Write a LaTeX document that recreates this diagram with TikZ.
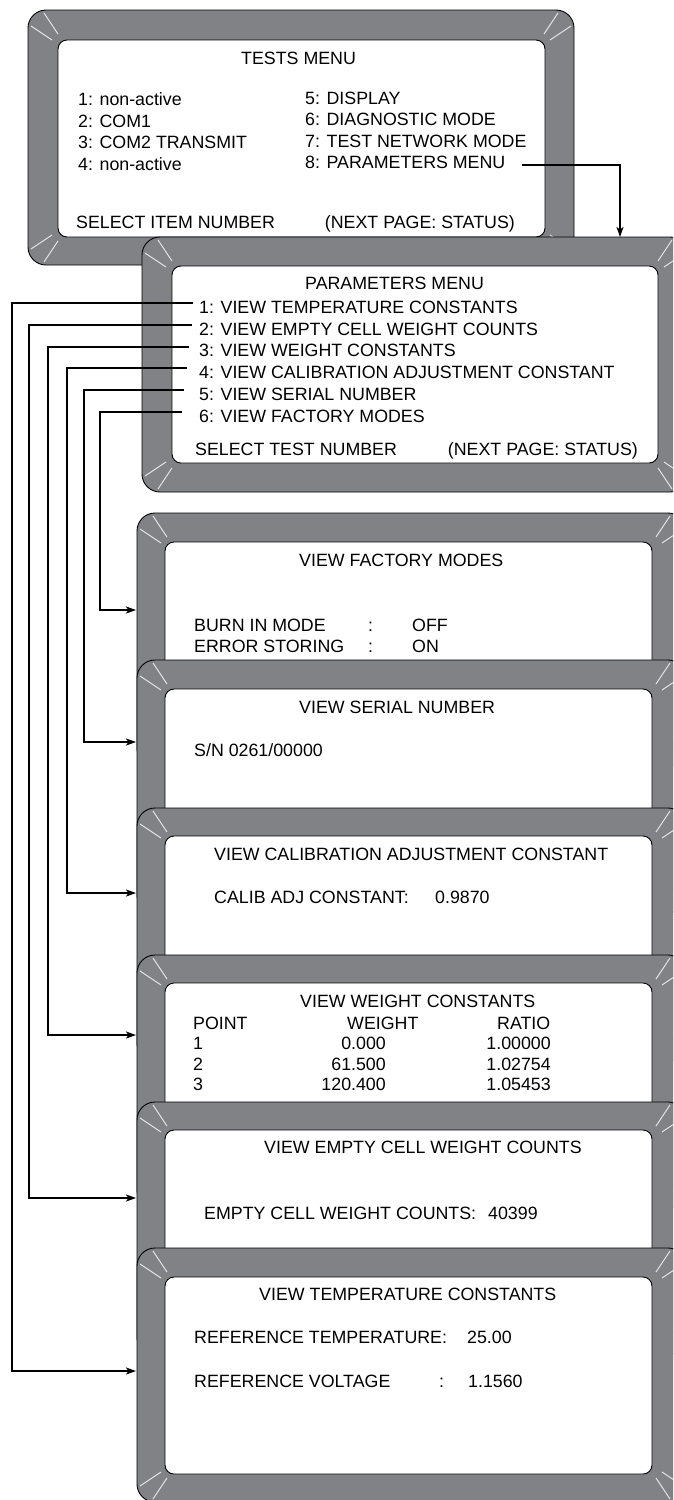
\documentclass[tikz,border=0pt]{standalone}
\usepackage{fontspec}
\setmainfont{Liberation Sans}
\usetikzlibrary{arrows.meta}
\definecolor{bezel}{RGB}{128,130,133}
\definecolor{glint}{RGB}{236,236,236}
\newcommand\scrn[8]{%
  \draw[bezelshape] (#1,#2) rectangle (#3,#4);
  \draw[screenshape] (#5,#6) rectangle (#7,#8);
  \foreach \cx/\cy/\sx/\sy in {#1/#2/1/1,#3/#2/-1/1,#1/#4/1/-1,#3/#4/-1/-1}{
    \draw[cornerline] ({\cx+\sx*3},{\cy+\sy*16}) -- ({\cx+\sx*24},{\cy+\sy*30});
    \draw[cornerline] ({\cx+\sx*16},{\cy+\sy*3}) -- ({\cx+\sx*30},{\cy+\sy*24});
  }}
\begin{document}
\begin{tikzpicture}[x=1pt,y=-1pt,
  bezelshape/.style={fill=bezel,draw=black,line width=0.9pt,rounded corners=18pt},
  screenshape/.style={fill=white,draw=black,line width=0.9pt,rounded corners=9pt},
  cornerline/.style={draw=glint,line width=0.9pt},
  conn/.style={draw=black,line width=1.8pt,-{Stealth[length=10pt,width=7pt,inset=2.5pt]}},
  txt/.style={anchor=base west,inner sep=0pt,font=\fontsize{17.8}{21}\selectfont},
  txtr/.style={anchor=base east,inner sep=0pt,font=\fontsize{17.8}{21}\selectfont}]
\clip (0,0) rectangle (673,1500);
\fill[white] (0,0) rectangle (673,1500);
% TESTS MENU screen
\scrn{28}{10}{574}{265}{58}{40}{545}{237}
\node[txt] (tt) at (241,64.5) {TESTS MENU};
\node[txt] (t1) at (78,105.5) {1: non-active};
\node[txt] (t2) at (78,127) {2: COM1};
\node[txt] (t3) at (78,148.5) {3: COM2 TRANSMIT};
\node[txt] (t4) at (78,170) {4: non-active};
\node[txt] (t5) at (305,104) {5: DISPLAY};
\node[txt] (t6) at (305,125.5) {6: DIAGNOSTIC MODE};
\node[txt] (t7) at (305,147) {7: TEST NETWORK MODE};
\node[txt] (t8) at (305,168.5) {8: PARAMETERS MENU};
\node[txt] (ts) at (76,228.5) {SELECT ITEM NUMBER};
\node[txtr] (tn) at (515,228.5) {(NEXT PAGE: STATUS)};
% PARAMETERS MENU screen
\scrn{142}{237}{688}{492}{172}{266}{658}{463}
\coordinate (inParam) at (620,237);
\node[txt] (pt) at (305,289) {PARAMETERS MENU};
\node[txt] (p1) at (199,313) {1: VIEW TEMPERATURE CONSTANTS};
\node[txt] (p2) at (199,335) {2: VIEW EMPTY CELL WEIGHT COUNTS};
\node[txt] (p3) at (199,356.5) {3: VIEW WEIGHT CONSTANTS};
\node[txt] (p4) at (199,378) {4: VIEW CALIBRATION ADJUSTMENT CONSTANT};
\node[txt] (p5) at (199,400) {5: VIEW SERIAL NUMBER};
\node[txt] (p6) at (199,422) {6: VIEW FACTORY MODES};
\node[txt] (ps) at (195,455) {SELECT TEST NUMBER};
\node[txtr] (pn) at (638,455) {(NEXT PAGE: STATUS)};
\draw[conn] ([xshift=16pt,yshift=-3pt]t8.east) -| (inParam);
% VIEW FACTORY MODES
\scrn{137}{513}{686}{766}{165}{542}{652}{739}
\coordinate (inFac) at (136,610);
\node[txt] (ft) at (299,566.5) {VIEW FACTORY MODES};
\node[txt] (f1) at (194,631.5) {BURN IN MODE};
\node[txt] (f1c) at (368,631.5) {:};
\node[txt] (f1v) at (412,631.5) {OFF};
\node[txt] (f2) at (194,652.5) {ERROR STORING};
\node[txt] (f2c) at (368,652.5) {:};
\node[txt] (f2v) at (412,652.5) {ON};
% VIEW SERIAL NUMBER
\scrn{137}{660}{686}{913}{165}{689}{652}{886}
\coordinate (inSer) at (136,742);
\node[txt] (st) at (299,713.5) {VIEW SERIAL NUMBER};
\node[txt] (s1) at (194,756.5) {S/N 0261/00000};
% VIEW CALIBRATION ADJUSTMENT CONSTANT
\scrn{137}{808}{686}{1061}{165}{836}{652}{1034}
\coordinate (inCal) at (136,893);
\node[txt] (ct) at (214,860.5) {VIEW CALIBRATION ADJUSTMENT CONSTANT};
\node[txt] (c1) at (214,903.5) {CALIB ADJ CONSTANT:};
\node[txt] (c1v) at (435,903.5) {0.9870};
% VIEW WEIGHT CONSTANTS
\scrn{137}{955}{686}{1208}{165}{983}{652}{1181}
\coordinate (inWei) at (136,1035);
\node[txt] (wt) at (300,1007.3) {VIEW WEIGHT CONSTANTS};
\node[txt] (wh1) at (193,1029.3) {POINT};
\node[txt] (wh2) at (347,1029.3) {WEIGHT};
\node[txt] (wh3) at (497,1029.3) {RATIO};
\node[txt] (w1a) at (193,1049.3) {1};
\node[txtr] (w1b) at (386,1049.3) {0.000};
\node[txtr] (w1c) at (551,1049.3) {1.00000};
\node[txt] (w2a) at (193,1070) {2};
\node[txtr] (w2b) at (386,1070) {61.500};
\node[txtr] (w2c) at (551,1070) {1.02754};
\node[txt] (w3a) at (193,1090.7) {3};
\node[txtr] (w3b) at (386,1090.7) {120.400};
\node[txtr] (w3c) at (551,1090.7) {1.05453};
% VIEW EMPTY CELL WEIGHT COUNTS
\scrn{137}{1102}{686}{1355}{165}{1130}{652}{1328}
\coordinate (inEmp) at (136,1198);
\node[txt] (et) at (264,1153.5) {VIEW EMPTY CELL WEIGHT COUNTS};
\node[txt] (e1) at (204,1219.5) {EMPTY CELL WEIGHT COUNTS:};
\node[txt] (e1v) at (488,1219.5) {40399};
% VIEW TEMPERATURE CONSTANTS
\scrn{137}{1248}{686}{1502}{165}{1277}{652}{1474}
\coordinate (inTem) at (136,1371);
\node[txt] (mt) at (259,1300.5) {VIEW TEMPERATURE CONSTANTS};
\node[txt] (m1) at (194,1343.5) {REFERENCE TEMPERATURE:};
\node[txt] (m1v) at (467,1343.5) {25.00};
\node[txt] (m2) at (194,1387.5) {REFERENCE VOLTAGE};
\node[txt] (m2c) at (439,1387.5) {:};
\node[txt] (m2v) at (468,1387.5) {1.1560};
% connectors from the parameters menu
\draw[conn] ([xshift=-6pt,yshift=3.5pt]p1.west) -- ++(-181,0) |- (inTem);
\draw[conn] ([xshift=-7pt,yshift=3.5pt]p2.west) -- ++(-163,0) |- (inEmp);
\draw[conn] ([xshift=-10pt,yshift=3.5pt]p3.west) -- ++(-141,0) |- (inWei);
\draw[conn] ([xshift=-12pt,yshift=3.5pt]p4.west) -- ++(-120,0) |- (inCal);
\draw[conn] ([xshift=-15pt,yshift=3.5pt]p5.west) -- ++(-100,0) |- (inSer);
\draw[conn] ([xshift=-17pt,yshift=3.5pt]p6.west) -- ++(-82,0) |- (inFac);
\end{tikzpicture}
\end{document}
